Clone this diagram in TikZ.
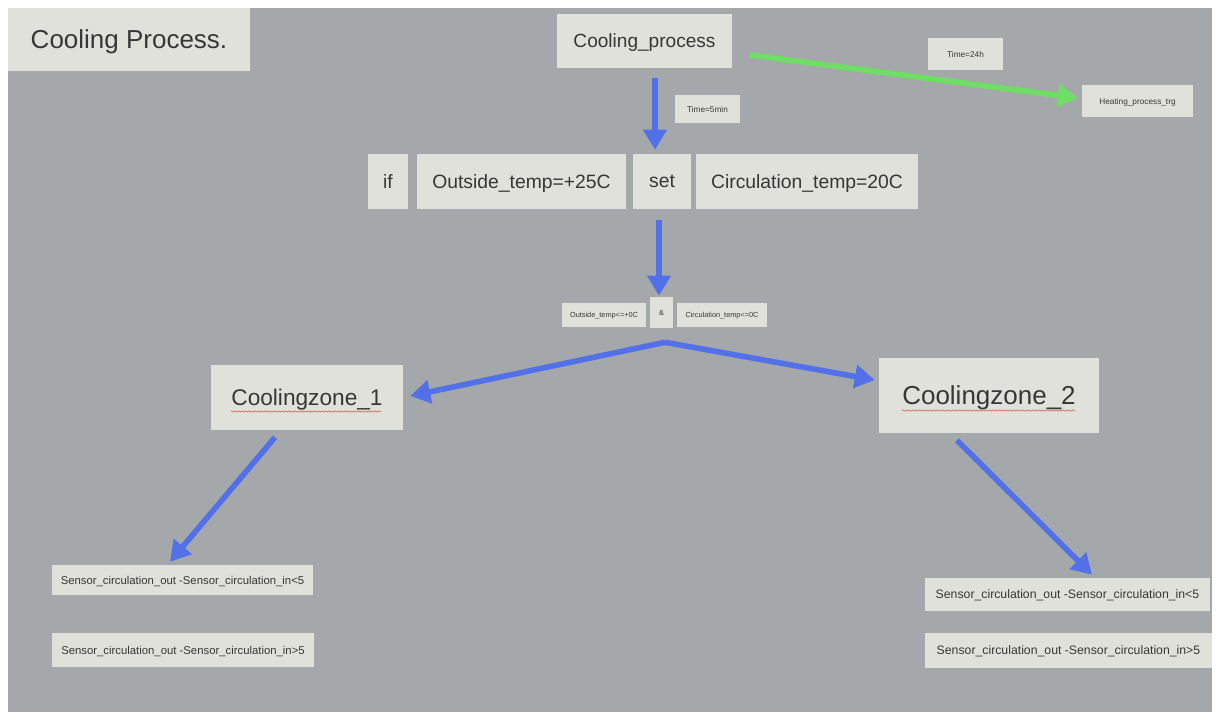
\documentclass[tikz,border=0pt]{standalone}
\usepackage{fontspec}
\setmainfont{Liberation Sans}
\usetikzlibrary{arrows.meta,calc,decorations.pathmorphing}
\definecolor{bg}{RGB}{164,168,170}
\definecolor{card}{RGB}{225,225,219}
\definecolor{ink}{RGB}{55,55,55}
\definecolor{flow}{RGB}{82,112,232}
\definecolor{go}{RGB}{110,222,100}
\definecolor{spell}{RGB}{205,110,100}
\newcommand\fsz[1]{\fontsize{#1}{#1}\selectfont}
\tikzset{
  card/.style={fill=card, text=ink, inner sep=0pt, align=center, text depth=0pt},
  sz/.style 2 args={minimum width=#1*0.75pt, minimum height=#2*0.75pt},
  arr/.style={draw=flow, line width=4.2pt, line join=round,
              -{Triangle[width=17pt,length=15pt]}},
  garr/.style={arr, draw=go},
  wavy/.style={draw=spell, line width=0.5pt,
               decorate, decoration={snake, amplitude=0.5pt, segment length=2.5pt}}
}
\begin{document}
\begin{tikzpicture}[x=0.75pt, y=-0.75pt]
  % canvas
  \useasboundingbox (0,0) rectangle (1216,719);
  \fill[white] (0,0) rectangle (1216,719);
  \fill[bg] (8,8) rectangle (1212,712);

  % title
  \node[card, sz={242}{63}, font=\fsz{19.5}] (title) at (129,39.5) {Cooling Process.};

  % top of the flow
  \node[card, sz={175}{54}, font=\fsz{14.3}] (cp) at (644.5,41) {Cooling\_process};
  \node[card, sz={75}{32}, font=\fsz{6.2}] (t24) at (965.5,54) {Time=24h};
  \node[card, sz={111}{32}, font=\fsz{6.2}] (heat) at (1137.5,101) {Heating\_process\_trg};
  \node[card, sz={65}{28}, font=\fsz{6.2}] (t5) at (707.5,109) {Time=5min};

  % condition row
  \node[card, sz={40}{55}, font=\fsz{14.5}] (if) at (388,181.5) {if};
  \node[card, sz={209}{55}, font=\fsz{14.5}] (out) at (521.5,181.5) {Outside\_temp=+25C};
  \node[card, sz={58}{55}, font=\fsz{14.5}] (set) at (662,181.5) {set};
  \node[card, sz={222}{55}, font=\fsz{14.5}] (circ) at (807,181.5) {Circulation\_temp=20C};

  % second condition
  \node[card, sz={84}{24}, font=\fsz{5.5}] (c1) at (604,315) {Outside\_temp<=+0C};
  \node[card, sz={23}{31}, font=\fsz{5.5}] (amp) at (661.5,312.5) {\&};
  \node[card, sz={90}{24}, font=\fsz{5.5}] (c2) at (722,315) {Circulation\_temp<=0C};

  % zones
  \node[card, sz={192}{65}, font=\fsz{17}] (cz1) at (307,397.5) {Coolingzone\_1};
  \node[card, sz={220}{75}, font=\fsz{19.5}] (cz2) at (989,395.5) {Coolingzone\_2};
  \draw[wavy] ($(cz1.center)+(-76,14)$) -- ($(cz1.center)+(74,14)$);
  \draw[wavy] ($(cz2.center)+(-87,15)$) -- ($(cz2.center)+(86,15)$);

  % sensors
  \node[card, sz={261}{30}, font=\fsz{8.5}] (s1) at (182.5,580) {Sensor\_circulation\_out -Sensor\_circulation\_in<5};
  \node[card, sz={262}{34}, font=\fsz{8.5}] (s2) at (183,650) {Sensor\_circulation\_out -Sensor\_circulation\_in>5};
  \node[card, sz={285}{33}, font=\fsz{9.2}] (s3) at (1067.5,594.5) {Sensor\_circulation\_out -Sensor\_circulation\_in<5};
  \node[card, sz={287}{35}, font=\fsz{9.2}] (s4) at (1068.5,650.5) {Sensor\_circulation\_out -Sensor\_circulation\_in>5};

  % connector ends
  \coordinate (fork) at ($(amp.south)+(3.5,14)$);
  \coordinate (tipL) at ($(cz1.east)+(7,-1.5)$);
  \coordinate (tipR) at ($(cz2.west)+(-4,-15.5)$);

  % connectors
  \draw[arr] ($(cp.south)+(10.5,10)$) -- ($(set.north)+(-7,-4)$);
  \draw[garr] ($(cp.east)+(18,14)$) -- ($(heat.west)+(-4,-3)$);
  \draw[arr] ($(set.south)+(-3,11)$) -- ($(amp.north)+(-2.5,-1)$);
  \draw[arr] (fork) -- (tipL);
  \draw[arr] (fork) -- (tipR);
  \draw[arr] ($(cz1.south)+(-32,7)$) -- ($(s1.north)+(-12.5,-3)$);
  \draw[arr] ($(cz2.south)+(-32,7)$) -- ($(s3.north)+(24.5,-3)$);
\end{tikzpicture}
\end{document}
